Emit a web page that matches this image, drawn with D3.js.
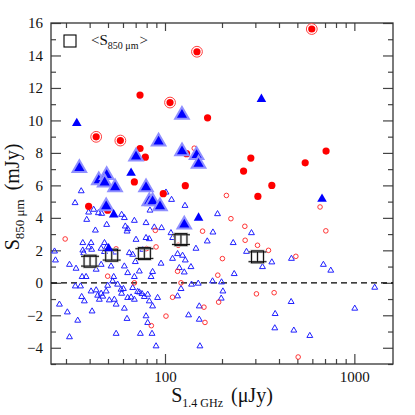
<!DOCTYPE html>
<html>
<head>
<meta charset="utf-8">
<script src="https://cdnjs.cloudflare.com/ajax/libs/d3/7.8.5/d3.min.js"></script>
<style>
  body { margin: 0; background: #fff; }
  svg { display: block; }
</style>
</head>
<body>
<svg></svg>
<script>
'use strict';

// ---- data (x: S1.4GHz in uJy, y: S850um in mJy) ----
var smallTri = [
  [36.1,5.65],[33.5,4.92],[39.5,4.34],[42.0,4.51],[44.5,4.30],[46.3,4.26],[59.0,4.20],[61.0,4.00],[38.6,3.89],[68.9,3.83],
  [49.2,3.58],[61.7,3.48],[63.5,3.32],[42.9,3.23],[63.0,3.17],[79.4,3.69],[87.8,3.42],[95.9,3.38],[107.5,3.07],[70.3,2.66],
  [79.4,2.77],[82.6,2.70],[109.7,2.77],[36.8,2.46],[40.7,2.46],[47.9,2.46],[26.1,1.94],[36.8,2.0],[41.0,2.05],[49.2,2.21],
  [54.7,1.88],[67.5,1.74],[69.7,1.29],[26.4,1.39],[31.3,1.12],[33.9,0.88],[61.0,1.02],[63.5,0.61],[73.2,0.71],[84.4,0.37],
  [86.0,0.68],[36.5,0.37],[38.3,0.37],[43.3,0.82],[46.0,1.12],[51.9,1.02],[52.9,0.10],[49.8,-0.17],[53.6,0.37],[56.2,-0.10],
  [33.6,-0.21],[35.8,-0.21],[27.7,-1.33],[30.5,-1.81],[34.6,-2.32],[31.3,-3.34],[36.3,-0.86],[37.5,-1.13],[40.7,-0.52],[43.3,-0.45],
  [44.1,-0.78],[45.0,-1.03],[46.0,-0.66],[46.9,-0.84],[48.9,-0.52],[50.8,-1.07],[54.0,-1.03],[55.2,-1.33],[58.6,-0.41],[59.0,-0.66],
  [60.3,-0.37],[61.0,-1.58],[63.0,-2.21],[63.5,-0.92],[66.2,-0.89],[68.9,-1.03],[73.2,-0.58],[75.6,-0.68],[77.8,-0.86],[81.0,-0.72],
  [82.6,-1.13],[86.0,-1.44],[91.4,-0.92],[79.4,-2.05],[81.0,-2.46],[74.1,-3.13],[85.4,-3.13],[89.7,-3.90],[55.2,-3.13],[41.2,-1.75],
  [64.8,1.84],[39.5,2.19],[46.0,2.11],[47.9,1.91],[37.2,1.84],[101.2,5.57],[108.3,5.12],[127.5,4.75],[83.3,4.46],[167.2,2.56],
  [179.1,3.11],[189.4,4.24],[229.2,2.46],[286.2,3.07],[269.4,1.92],[327.2,0.98],[366.6,1.27],[465.3,1.49],[232.0,0.55],[178.3,0.10],
  [198.8,0.04],[686.3,1.12],[750.7,0.76],[1281,-0.29],[202.2,-0.52],[198.1,-0.96],[463.6,-1.17],[381.7,-1.91],[1005,-1.58],[380,-2.79],
  [479,-2.93],[581.8,-3.26],[152.9,-3.90],[151.7,-1.44],[151.7,-2.26],[138.1,-0.10],[149.8,-0.04],[133.2,-1.99],[116.5,-0.82],[121.5,-0.37],
  [116.5,1.78],[123.8,1.68],[109.6,1.49],[128,1.39],[95.3,1.19],[137.1,0.98],[119,0.92],[126.4,0.65],[145.7,2.11],[76.2,2.05],
  [67.5,-0.31],[71.7,-0.55],[68.9,0.37]
];

var redOpen = [
  [142.7,8.29],[211,5.38],[222.9,3.95],[264,3.48],[265,2.62],[308,2.31],[352,2.0],[201,1.49],[491,1.63],[190,0.47],
  [707,3.2],[659,4.67],[304,-0.68],[377,-0.61],[192,-1.19],[160.6,-1.50],[162.6,-2.44],[505,-4.57],[157.9,3.18],[88.9,3.23],
  [89.7,2.21],[80,2.11],[117.5,2.31],[116.5,0.71],[121.5,0.0],[109.6,-0.89],[101.2,-2.05],[84.7,-2.64],[68.9,0.0],[49.8,0.41],
  [55.2,2.09],[29.7,2.70]
];

var redDot = [
  [73.8,11.56],[167.8,10.16],[73.8,8.27],[78.7,7.74],[130,7.95],[68.9,6.21],[97.9,5.49],[128,5.98],[39.5,4.71],[49.8,4.47],
  [709,8.11],[284,7.68],[550,7.39],[260,6.88],[366.6,6.0],[309.4,5.32]
];

var redRing = [[147.5,14.23],[106.3,11.10],[43.3,8.99],[58.1,8.76],[596,15.63]];

var bigTri = [
  [122.9,10.34],[92.5,8.70],[123,8.09],[146.8,7.87],[150.4,7.33],[35.3,7.07],[44.7,6.31],[49.2,6.64],[48.0,6.18],[54.5,5.88],
  [70.3,7.78],[79.4,5.88],[82.6,5.02],[86.0,5.02],[94.1,4.71],[48.9,4.71],[126.4,3.58]
];

var midTri = [[34.2,9.83],[66.2,6.76],[53.6,4.20],[150.4,4.00],[323,11.31],[675,5.16],[50.4,2.11]];

// binned means <S850um> with error
var meanX = [40.2, 52.3, 77.8, 121.4, 308];
var meanY = [1.33, 1.70, 1.80, 2.66, 1.60];
var meanErr = [0.3, 0.3, 0.3, 0.3, 0.3];

var xMajor = [100, 1000];
var xMinor = [30, 40, 50, 60, 70, 80, 90, 200, 300, 400, 500, 600, 700, 800, 900];
var xTickLabels = ['100', '1000'];
var yMajor = [-4, -2, 0, 2, 4, 6, 8, 10, 12, 14, 16];
var yMinor = [-5, -3, -1, 1, 3, 5, 7, 9, 11, 13, 15];

// ---- chart area ----
var margin = {top: 23, right: 22, bottom: 51, left: 51};
var canvasWidth = 415;
var canvasHeight = 415;
var width = canvasWidth - margin.left - margin.right;
var height = canvasHeight - margin.top - margin.bottom;
var serif = '"Liberation Serif", "DejaVu Serif", serif';

var svg = d3.select('svg')
  .attr('width', canvasWidth)
  .attr('height', canvasHeight);

var plot = svg.append('g')
  .attr('transform', 'translate(' + margin.left + ',' + margin.top + ')');

var xScale = d3.scaleLog().domain([25, 1600]).range([0, width]);
var yScale = d3.scaleLinear().domain([-5, 16]).range([height, 0]);

function place(d) {
  return 'translate(' + xScale(d[0]) + ',' + yScale(d[1]) + ')';
}

function styleAxis(g) {
  g.select('.domain').remove();
  g.selectAll('line').attr('stroke', '#444').attr('stroke-width', 1.2);
  g.attr('font-family', serif).attr('font-size', 15);
  g.selectAll('text').attr('fill', '#111');
}

// ticks, all pointing inward, on every side
plot.append('g').attr('transform', 'translate(0,' + height + ')')
  .call(d3.axisBottom(xScale).tickValues(xMinor).tickSize(-5).tickFormat(''))
  .call(styleAxis);
plot.append('g').attr('transform', 'translate(0,' + height + ')')
  .call(d3.axisBottom(xScale).tickValues(xMajor).tickSize(-10).tickPadding(7.5)
    .tickFormat(function(d) { return xTickLabels[xMajor.indexOf(d)]; }))
  .call(styleAxis);
plot.append('g')
  .call(d3.axisTop(xScale).tickValues(xMinor).tickSize(-5).tickFormat(''))
  .call(styleAxis);
plot.append('g')
  .call(d3.axisTop(xScale).tickValues(xMajor).tickSize(-8).tickFormat(''))
  .call(styleAxis);

plot.append('g')
  .call(d3.axisLeft(yScale).tickValues(yMinor).tickSize(-5).tickFormat(''))
  .call(styleAxis);
plot.append('g')
  .call(d3.axisLeft(yScale).tickValues(yMajor).tickSize(-10).tickPadding(8).tickFormat(d3.format('d')))
  .call(styleAxis);
plot.append('g').attr('transform', 'translate(' + width + ',0)')
  .call(d3.axisRight(yScale).tickValues(yMinor).tickSize(-5).tickFormat(''))
  .call(styleAxis);
plot.append('g').attr('transform', 'translate(' + width + ',0)')
  .call(d3.axisRight(yScale).tickValues(yMajor).tickSize(-10).tickFormat(''))
  .call(styleAxis);

// frame
plot.append('rect')
  .attr('width', width)
  .attr('height', height)
  .attr('fill', 'none')
  .attr('stroke', '#333')
  .attr('stroke-width', 1.3);

// zero line
plot.append('line')
  .attr('x1', 0).attr('x2', width)
  .attr('y1', yScale(0)).attr('y2', yScale(0))
  .attr('stroke', '#000')
  .attr('stroke-width', 1.2)
  .attr('stroke-dasharray', '6,4');

// small open triangles
plot.selectAll('.small-tri')
  .data(smallTri)
  .enter()
  .append('path')
  .attr('class', 'small-tri')
  .attr('transform', place)
  .attr('d', d3.symbol().type(d3.symbolTriangle).size(15))
  .attr('fill', 'none')
  .attr('stroke', '#2020ff')
  .attr('stroke-width', 1);

// small open red circles
plot.selectAll('.red-open')
  .data(redOpen)
  .enter()
  .append('circle')
  .attr('class', 'red-open')
  .attr('cx', function(d) { return xScale(d[0]); })
  .attr('cy', function(d) { return yScale(d[1]); })
  .attr('r', 2.3)
  .attr('fill', 'none')
  .attr('stroke', '#ff2020')
  .attr('stroke-width', 0.9);

// mean values: square with error bar, grey halo underneath
function drawMean(g, colour, w) {
  g.each(function(d, i) {
    var cx = xScale(meanX[i]);
    var cy = yScale(meanY[i]);
    var top = yScale(meanY[i] + meanErr[i]);
    var bot = yScale(meanY[i] - meanErr[i]);
    var s = d3.select(this);
    s.append('rect')
      .attr('x', cx - 6).attr('y', cy - 6)
      .attr('width', 12).attr('height', 12)
      .attr('fill', 'none').attr('stroke', colour).attr('stroke-width', w);
    s.append('line')
      .attr('x1', cx).attr('x2', cx).attr('y1', top).attr('y2', bot)
      .attr('stroke', colour).attr('stroke-width', w);
    [top, bot].forEach(function(yy) {
      s.append('line')
        .attr('x1', cx - 9).attr('x2', cx + 9).attr('y1', yy).attr('y2', yy)
        .attr('stroke', colour).attr('stroke-width', w);
    });
  });
}
plot.selectAll('.mean-halo').data(meanX).enter().append('g').attr('class', 'mean-halo')
  .call(drawMean, '#c4c4c4', 2.4);
plot.selectAll('.mean').data(meanX).enter().append('g').attr('class', 'mean')
  .call(drawMean, '#000', 0.9);

// filled red circles
plot.selectAll('.red-dot')
  .data(redDot)
  .enter()
  .append('circle')
  .attr('class', 'red-dot')
  .attr('cx', function(d) { return xScale(d[0]); })
  .attr('cy', function(d) { return yScale(d[1]); })
  .attr('r', 3.6)
  .attr('fill', '#ff0000');

// ringed red circles
var rings = plot.selectAll('.red-ring')
  .data(redRing)
  .enter()
  .append('g')
  .attr('class', 'red-ring')
  .attr('transform', place);
rings.append('circle').attr('r', 5.4).attr('fill', '#fff')
  .attr('stroke', '#ff4040').attr('stroke-width', 1);
rings.append('circle').attr('r', 3.6).attr('fill', '#ff0000');

// large filled triangles with light outline
plot.selectAll('.big-tri')
  .data(bigTri)
  .enter()
  .append('path')
  .attr('class', 'big-tri')
  .attr('transform', place)
  .attr('d', d3.symbol().type(d3.symbolTriangle).size(80))
  .attr('fill', '#0000ff')
  .attr('stroke', '#9090ff')
  .attr('stroke-width', 2);

// medium filled triangles
plot.selectAll('.mid-tri')
  .data(midTri)
  .enter()
  .append('path')
  .attr('class', 'mid-tri')
  .attr('transform', place)
  .attr('d', d3.symbol().type(d3.symbolTriangle).size(40))
  .attr('fill', '#0000ff');

// legend
var legend = svg.append('g')
  .attr('transform', 'translate(70,41)');
legend.append('rect')
  .attr('x', -6).attr('y', -6).attr('width', 12).attr('height', 12)
  .attr('fill', 'none').attr('stroke', '#000').attr('stroke-width', 1.1);
var legText = legend.append('text')
  .attr('x', 21)
  .attr('y', 4)
  .attr('font-family', serif)
  .attr('font-size', 15)
  .attr('fill', '#111');
legText.append('tspan').text('<S');
legText.append('tspan').attr('font-size', 10).attr('dy', 4).text('850 \u03bcm');
legText.append('tspan').attr('dy', -4).attr('dx', 1).text('>');

// x axis label
var xLab = svg.append('text')
  .attr('x', 222)
  .attr('y', 402)
  .attr('text-anchor', 'middle')
  .attr('font-family', serif)
  .attr('font-size', 20)
  .attr('fill', '#111');
xLab.append('tspan').text('S');
xLab.append('tspan').attr('font-size', 12).attr('dy', 5).text('1.4 GHz');
xLab.append('tspan').attr('dy', -5).attr('dx', 8).text('(\u03bcJy)');

// y axis label
var yLab = svg.append('text')
  .attr('transform', 'translate(19,197) rotate(-90)')
  .attr('text-anchor', 'middle')
  .attr('font-family', serif)
  .attr('font-size', 20)
  .attr('fill', '#111');
yLab.append('tspan').text('S');
yLab.append('tspan').attr('font-size', 13).attr('dy', 5).text('850 \u03bcm');
yLab.append('tspan').attr('dy', -5).attr('dx', 9).text('(mJy)');
</script>
</body>
</html>
